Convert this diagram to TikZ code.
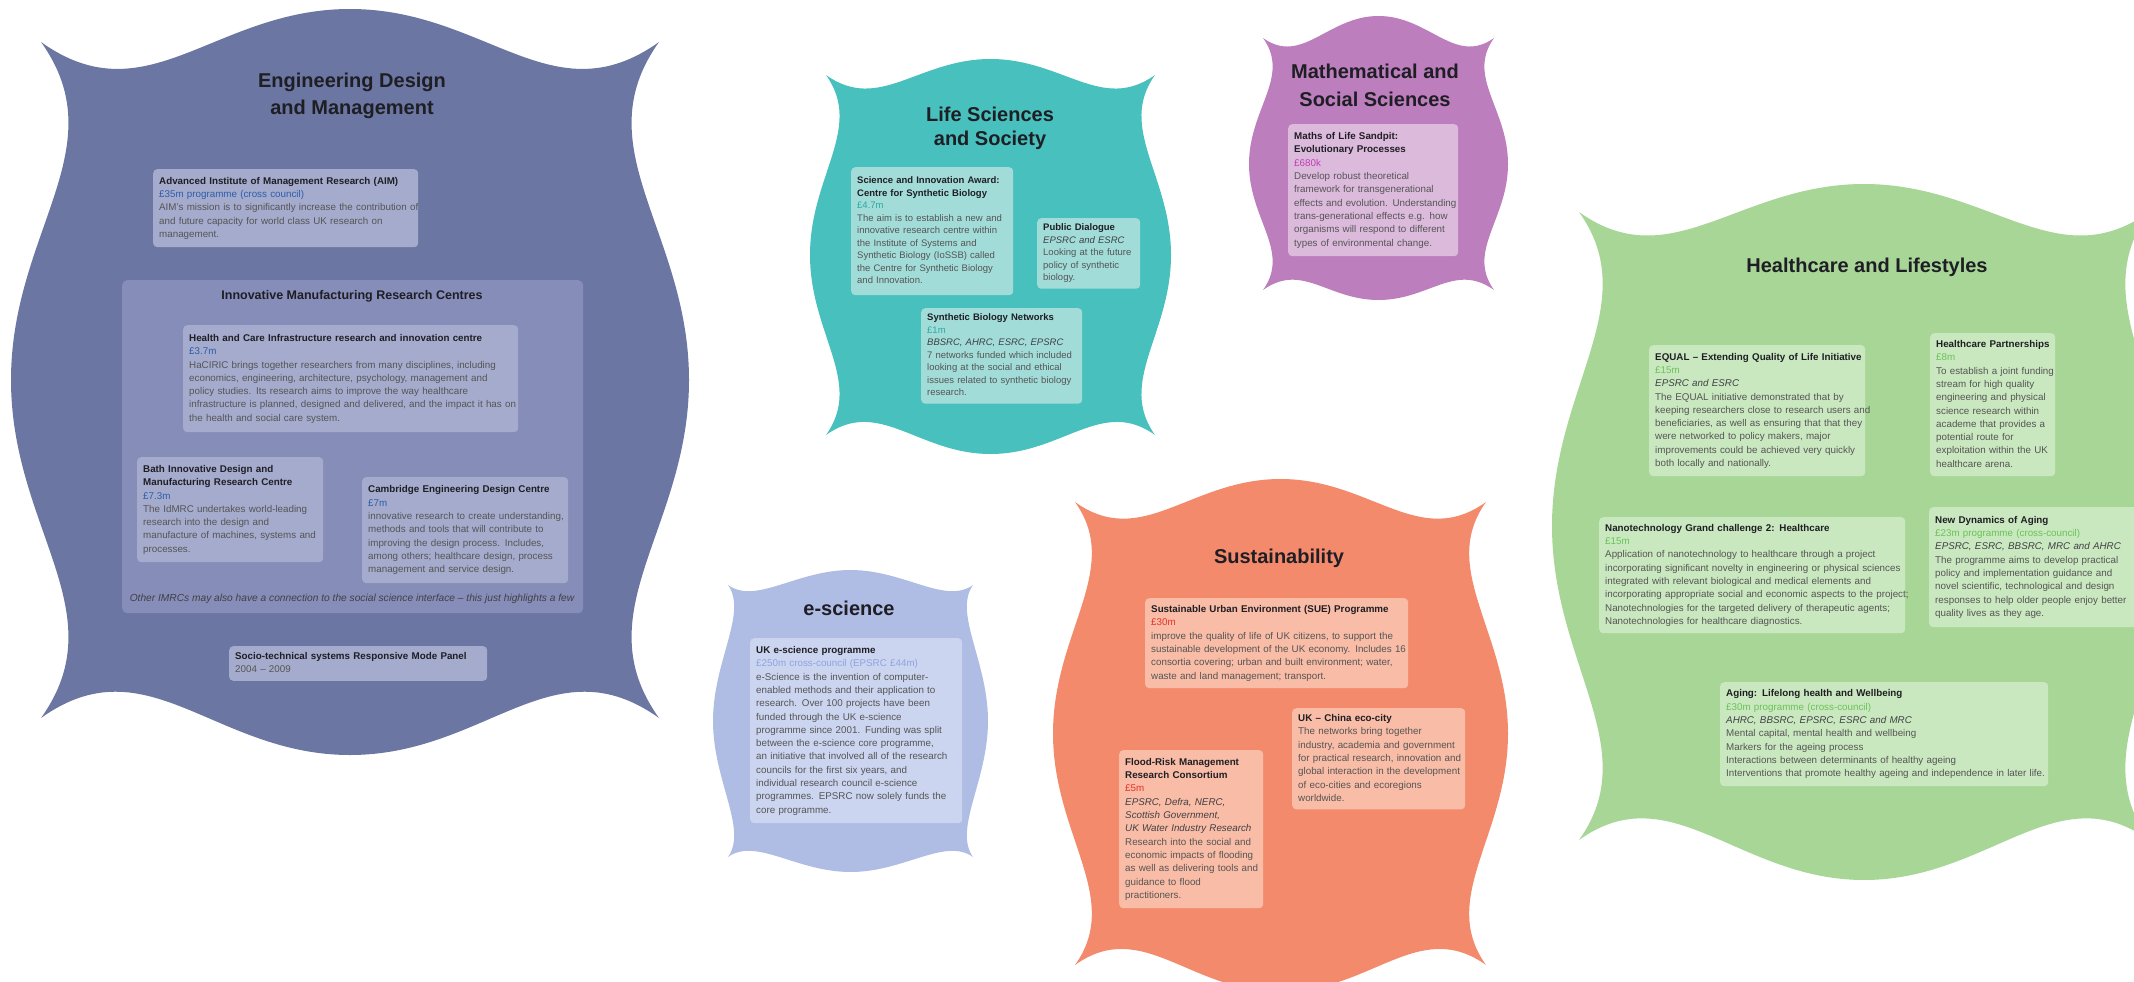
\documentclass[tikz,border=0pt]{standalone}
\usepackage{fontspec}
\setmainfont{Liberation Sans}
\usetikzlibrary{positioning,calc}

\definecolor{engbg}{HTML}{6B77A2}
\definecolor{engbox}{HTML}{A5ABCC}
\definecolor{imrcbg}{HTML}{868DB9}
\definecolor{engamt}{HTML}{2C5DAA}
\definecolor{lifebg}{HTML}{48C0BD}
\definecolor{lifebox}{HTML}{A2DCD8}
\definecolor{lifeamt}{HTML}{2AA9A3}
\definecolor{mathbg}{HTML}{BC7EBD}
\definecolor{mathbox}{HTML}{DCBADC}
\definecolor{mathamt}{HTML}{C13DB4}
\definecolor{escibg}{HTML}{AFBCE3}
\definecolor{escibox}{HTML}{CCD5F0}
\definecolor{esciamt}{HTML}{8EA2E2}
\definecolor{sustbg}{HTML}{F48A6C}
\definecolor{sustbox}{HTML}{F9BCA6}
\definecolor{sustamt}{HTML}{E8322A}
\definecolor{hlthbg}{HTML}{A7D697}
\definecolor{hlthbox}{HTML}{CAE8BF}
\definecolor{hlthamt}{HTML}{6AC258}
\definecolor{bodytxt}{HTML}{555555}
\definecolor{headtxt}{HTML}{1E1E24}

\newcommand{\hd}[1]{\textcolor{headtxt}{\bfseries #1}}
\newcommand{\fund}[1]{\textcolor{headtxt!85}{\itshape #1}}
% lines of a card, never re-broken
\newcommand{\boxlines}[1]{\noindent\begin{tabular}{@{}l@{}}#1\end{tabular}}

% scalloped area: x0, y0, x1, y1 (horns), top bulge, bottom bulge, side bulge, dip, colour
\newcommand{\blob}[9]{%
  \pgfmathsetmacro\blobxm{(#1+#3)/2}%
  \pgfmathsetmacro\blobym{(#2+#4)/2}%
  \pgfmathsetmacro\blobkh{0.22*(#3-#1)}%
  \pgfmathsetmacro\blobkv{0.22*(#4-#2)}%
  \pgfmathsetmacro\bloba{1.4*#8}%
  \pgfmathsetmacro\blobb{#8}%
  \fill[#9] (#1,#2) .. controls +(\bloba,\blobb) and +(-\blobkh,0) .. (\blobxm,#2-#5)
    .. controls +(\blobkh,0) and +(-\bloba,\blobb) .. (#3,#2)
    .. controls +(-\blobb,\bloba) and +(0,-\blobkv) .. (#3+#7,\blobym)
    .. controls +(0,\blobkv) and +(-\blobb,-\bloba) .. (#3,#4)
    .. controls +(-\bloba,-\blobb) and +(\blobkh,0) .. (\blobxm,#4+#6)
    .. controls +(-\blobkh,0) and +(\bloba,-\blobb) .. (#1,#4)
    .. controls +(\blobb,-\bloba) and +(0,\blobkv) .. (#1-#7,\blobym)
    .. controls +(0,-\blobkv) and +(\blobb,\bloba) .. cycle;
}

\begin{document}
\begin{tikzpicture}[x=1pt,y=-1pt,
    card/.style={anchor=north west, rounded corners=4pt, inner xsep=6pt, inner ysep=4pt,
      text=bodytxt, font=\fontsize{9.8}{13.3}\selectfont},
    areatitle/.style={align=center, text=headtxt, font=\fontsize{20}{27}\selectfont\bfseries},
    subtitle/.style={align=center, text=headtxt, font=\fontsize{12.5}{15}\selectfont\bfseries}]
  \useasboundingbox (0,0) rectangle (2134,982);
  \clip (0,0) rectangle (2134,982);

  % the six areas
  \blob{41}{42}{659}{718}{33}{37}{30}{76}{engbg}
  \blob{826}{75}{1155}{435}{16}{19}{16}{38}{lifebg}
  \blob{1263}{38}{1494}{290}{22}{10}{14}{28}{mathbg}
  \blob{728}{585}{973}{857}{15}{15}{15}{20}{escibg}
  \blob{1075}{502}{1486}{965}{23}{27}{22}{48}{sustbg}
  \blob{1579}{212}{2149}{840}{28}{40}{27}{66}{hlthbg}

  % Engineering Design and Management
  \node[areatitle] (engtitle) at (352,96) {Engineering Design\\and Management};
  \node[card, fill=engbox, text width=253pt, minimum height=78pt] (aim) at (153,169)
    {\boxlines{\hd{Advanced Institute of Management Research (AIM)}\\
     \textcolor{engamt}{£35m programme (cross council)}\\
     AIM's mission is to significantly increase the contribution of\\
     and future capacity for world class UK research on\\
     management.}};
  \node[anchor=north west, fill=imrcbg, rounded corners=5pt, minimum width=461pt,
    minimum height=333pt, inner sep=0pt] (imrc) at (122,280) {};
  \node[subtitle] (imrctitle) at (352,296) {Innovative Manufacturing Research Centres};
  \node[card, fill=engbox, text width=323pt, minimum height=107pt] (haciric) at (183,325)
    {\boxlines{\hd{Health and Care Infrastructure research and innovation centre}\\
     \textcolor{engamt}{£3.7m}\\
     HaCIRIC brings together researchers from many disciplines, including\\
     economics, engineering, architecture, psychology, management and\\
     policy studies. Its research aims to improve the way healthcare\\
     infrastructure is planned, designed and delivered, and the impact it has on\\
     the health and social care system.}};
  \node[card, fill=engbox, text width=174pt, minimum height=105pt] (bath) at (137,457)
    {\boxlines{\hd{Bath Innovative Design and}\\
     \hd{Manufacturing Research Centre}\\
     \textcolor{engamt}{£7.3m}\\
     The IdMRC undertakes world-leading\\
     research into the design and\\
     manufacture of machines, systems and\\
     processes.}};
  \node[card, fill=engbox, text width=194pt, minimum height=106pt] (cambridge) at (362,477)
    {\boxlines{\hd{Cambridge Engineering Design Centre}\\
     \textcolor{engamt}{£7m}\\
     innovative research to create understanding,\\
     methods and tools that will contribute to\\
     improving the design process. Includes,\\
     among others; healthcare design, process\\
     management and service design.}};
  \node[text=headtxt!85, font=\fontsize{10.2}{12}\selectfont\itshape] (imrcnote) at (352,599)
    {Other IMRCs may also have a connection to the social science interface -- this just highlights a few};
  \node[card, fill=engbox, text width=246pt, minimum height=34pt] (socio) at (229,646)
    {\boxlines{\hd{Socio-technical systems Responsive Mode Panel}\\
     2004 -- 2009}};

  % Life Sciences and Society
  \node[areatitle, font=\fontsize{20}{24}\selectfont\bfseries] (lifetitle) at (990,128) {Life Sciences\\and Society};
  \node[card, fill=lifebox, text width=150pt, minimum height=128pt,
    font=\fontsize{9.5}{12.5}\selectfont] (award) at (851,167)
    {\boxlines{\hd{Science and Innovation Award:}\\
     \hd{Centre for Synthetic Biology}\\
     \textcolor{lifeamt}{£4.7m}\\
     The aim is to establish a new and\\
     innovative research centre within\\
     the Institute of Systems and\\
     Synthetic Biology (IoSSB) called\\
     the Centre for Synthetic Biology\\
     and Innovation.}};
  \node[card, fill=lifebox, text width=91pt, minimum height=69pt,
    font=\fontsize{9.5}{12.5}\selectfont] (dialogue) at (1037,218)
    {\boxlines{\hd{Public Dialogue}\\
     \fund{EPSRC and ESRC}\\
     Looking at the future\\
     policy of synthetic\\
     biology.}};
  \node[card, fill=lifebox, text width=149pt, minimum height=92pt,
    font=\fontsize{9.5}{12.5}\selectfont] (synnet) at (921,308)
    {\boxlines{\hd{Synthetic Biology Networks}\\
     \textcolor{lifeamt}{£1m}\\
     \fund{BBSRC, AHRC, ESRC, EPSRC}\\
     7 networks funded which included\\
     looking at the social and ethical\\
     issues related to synthetic biology\\
     research.}};

  % Mathematical and Social Sciences
  \node[areatitle, font=\fontsize{20}{28}\selectfont\bfseries] (mathtitle) at (1375,85) {Mathematical and\\Social Sciences};
  \node[card, fill=mathbox, text width=158pt, minimum height=132pt] (sandpit) at (1288,124)
    {\boxlines{\hd{Maths of Life Sandpit:}\\
     \hd{Evolutionary Processes}\\
     \textcolor{mathamt}{£680k}\\
     Develop robust theoretical\\
     framework for transgenerational\\
     effects and evolution. Understanding\\
     trans-generational effects e.g. how\\
     organisms will respond to different\\
     types of environmental change.}};

  % e-science
  \node[areatitle] (escititle) at (849,608) {e-science};
  \node[card, fill=escibox, text width=200pt, minimum height=185pt] (ukesci) at (750,638)
    {\boxlines{\hd{UK e-science programme}\\
     \textcolor{esciamt}{£250m cross-council (EPSRC £44m)}\\
     e-Science is the invention of computer-\\
     enabled methods and their application to\\
     research. Over 100 projects have been\\
     funded through the UK e-science\\
     programme since 2001. Funding was split\\
     between the e-science core programme,\\
     an initiative that involved all of the research\\
     councils for the first six years, and\\
     individual research council e-science\\
     programmes. EPSRC now solely funds the\\
     core programme.}};

  % Sustainability
  \node[areatitle] (susttitle) at (1279,558) {Sustainability};
  \node[card, fill=sustbox, text width=251pt, minimum height=90pt] (sue) at (1145,598)
    {\boxlines{\hd{Sustainable Urban Environment (SUE) Programme}\\
     \textcolor{sustamt}{£30m}\\
     improve the quality of life of UK citizens, to support the\\
     sustainable development of the UK economy. Includes 16\\
     consortia covering; urban and built environment; water,\\
     waste and land management; transport.}};
  \node[card, fill=sustbox, text width=161pt, minimum height=100pt] (ecocity) at (1292,708)
    {\boxlines{\hd{UK -- China eco-city}\\
     The networks bring together\\
     industry, academia and government\\
     for practical research, innovation and\\
     global interaction in the development\\
     of eco-cities and ecoregions\\
     worldwide.}};
  \node[card, fill=sustbox, text width=132pt, minimum height=158pt] (flood) at (1119,750)
    {\boxlines{\hd{Flood-Risk Management}\\
     \hd{Research Consortium}\\
     \textcolor{sustamt}{£5m}\\
     \fund{EPSRC, Defra, NERC,}\\
     \fund{Scottish Government,}\\
     \fund{UK Water Industry Research}\\
     Research into the social and\\
     economic impacts of flooding\\
     as well as delivering tools and\\
     guidance to flood\\
     practitioners.}};

  % Healthcare and Lifestyles
  \node[areatitle] (hlthtitle) at (1867,267) {Healthcare and Lifestyles};
  \node[card, fill=hlthbox, text width=204pt, minimum height=131pt] (equal) at (1649,345)
    {\boxlines{\hd{EQUAL -- Extending Quality of Life Initiative}\\
     \textcolor{hlthamt}{£15m}\\
     \fund{EPSRC and ESRC}\\
     The EQUAL initiative demonstrated that by\\
     keeping researchers close to research users and\\
     beneficiaries, as well as ensuring that that they\\
     were networked to policy makers, major\\
     improvements could be achieved very quickly\\
     both locally and nationally.}};
  \node[card, fill=hlthbox, text width=113pt, minimum height=143pt] (partner) at (1930,333)
    {\boxlines{\hd{Healthcare Partnerships}\\
     \textcolor{hlthamt}{£8m}\\
     To establish a joint funding\\
     stream for high quality\\
     engineering and physical\\
     science research within\\
     academe that provides a\\
     potential route for\\
     exploitation within the UK\\
     healthcare arena.}};
  \node[card, fill=hlthbox, text width=294pt, minimum height=116pt] (nano) at (1599,517)
    {\boxlines{\hd{Nanotechnology Grand challenge 2: Healthcare}\\
     \textcolor{hlthamt}{£15m}\\
     Application of nanotechnology to healthcare through a project\\
     incorporating significant novelty in engineering or physical sciences\\
     integrated with relevant biological and medical elements and\\
     incorporating appropriate social and economic aspects to the project;\\
     Nanotechnologies for the targeted delivery of therapeutic agents;\\
     Nanotechnologies for healthcare diagnostics.}};
  \node[card, fill=hlthbox, text width=209pt, minimum height=120pt] (dynamics) at (1929,507)
    {\boxlines{\hd{New Dynamics of Aging}\\
     \textcolor{hlthamt}{£23m programme (cross-council)}\\
     \fund{EPSRC, ESRC, BBSRC, MRC and AHRC}\\
     The programme aims to develop practical\\
     policy and implementation guidance and\\
     novel scientific, technological and design\\
     responses to help older people enjoy better\\
     quality lives as they age.}};
  \node[card, fill=hlthbox, text width=316pt, minimum height=104pt] (lifelong) at (1720,682)
    {\boxlines{\hd{Aging: Lifelong health and Wellbeing}\\
     \textcolor{hlthamt}{£30m programme (cross-council)}\\
     \fund{AHRC, BBSRC, EPSRC, ESRC and MRC}\\
     Mental capital, mental health and wellbeing\\
     Markers for the ageing process\\
     Interactions between determinants of healthy ageing\\
     Interventions that promote healthy ageing and independence in later life.}};
\end{tikzpicture}
\end{document}
